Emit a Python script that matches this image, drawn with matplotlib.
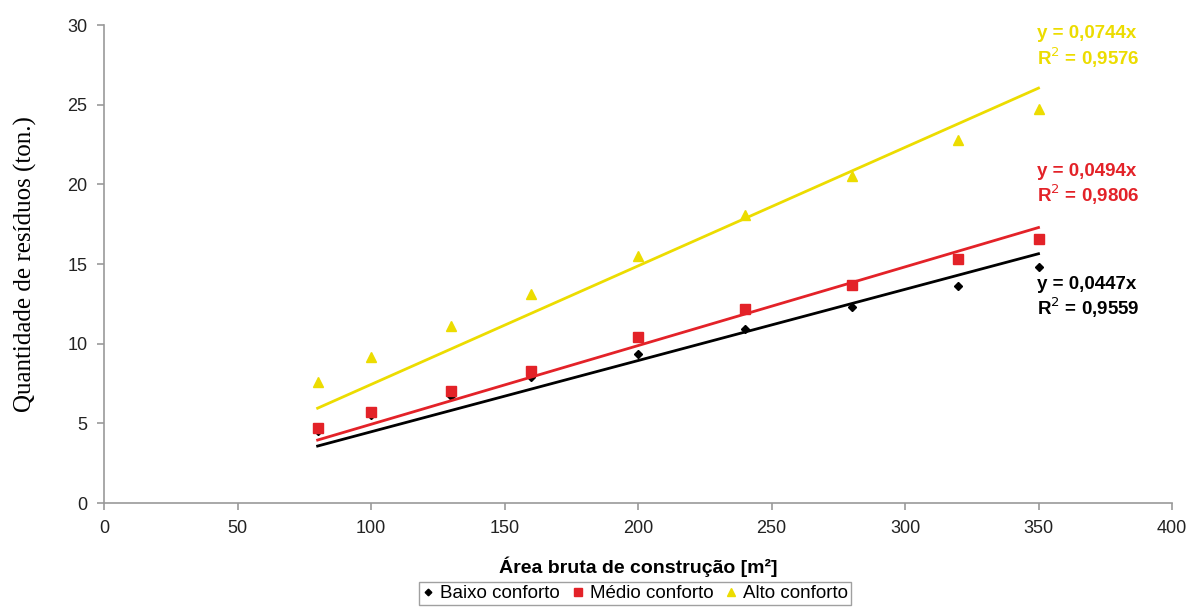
import numpy as np
import matplotlib.pyplot as plt

# area (m2) and residues (ton.)
area = np.array([80, 100, 130, 160, 200, 240, 280, 320, 350])
baixo = np.array([4.5, 5.5, 6.7, 7.9, 9.35, 10.9, 12.3, 13.6, 14.8])
medio = np.array([4.7, 5.7, 7.0, 8.3, 10.4, 12.2, 13.7, 15.3, 16.6])
alto = np.array([7.6, 9.15, 11.1, 13.1, 15.5, 18.1, 20.5, 22.8, 24.7])

slopes = [0.0447, 0.0494, 0.0744]
r2 = ["0,9559", "0,9806", "0,9576"]
labels = ["Baixo conforto", "Médio conforto", "Alto conforto"]
colors = ["#000000", "#e32228", "#ecdc00"]
markers = ["D", "s", "^"]
msizes = [4.5, 7, 7]
# where the equation text goes (data coords)
eq_pos = [(349.5, 12.85), (349.5, 19.95), (349.5, 28.6)]

plt.rcParams['font.family'] = ['Liberation Sans', 'DejaVu Sans']

fig = plt.figure(figsize=(11.89, 6.07), dpi=100)
ax = fig.add_axes([0.0875, 0.1713, 0.8982, 0.7875])

handles = []
for ys, b, r, lab, c, m, ms, pos in zip([baixo, medio, alto], slopes, r2, labels,
                                        colors, markers, msizes, eq_pos):
    h, = ax.plot(area, ys, linestyle='none', marker=m, color=c, markersize=ms, label=lab)
    handles.append(h)
    xx = np.array([area.min(), area.max()])
    ax.plot(xx, b * xx, color=c, lw=2)
    ax.text(pos[0], pos[1], "y = " + ("%.4f" % b).replace('.', ',') + "x\nR$^2$ = " + r,
            color=c, fontsize=13.5, fontweight='bold', ha='left', va='center',
            linespacing=1.15)

ax.set_xlim(0, 400)
ax.set_ylim(0, 30)
ax.set_xticks(np.arange(0, 401, 50))
ax.set_yticks(np.arange(0, 31, 5))
ax.spines['top'].set_visible(False)
ax.spines['right'].set_visible(False)
for s in ['left', 'bottom']:
    ax.spines[s].set_color('#999999')
    ax.spines[s].set_linewidth(1.2)
ax.tick_params(colors='#999999', labelcolor='#222222', labelsize=13, length=5, width=1.2, pad=7)

ax.set_xlabel("Área bruta de construção [m²]", fontsize=14, fontweight='bold', labelpad=14)
ax.set_ylabel("Quantidade de resíduos (ton.)", fontsize=18, family='Liberation Serif', labelpad=22)

leg = fig.legend(handles=handles, loc='upper center', bbox_to_anchor=(0.534, 0.056), ncol=3,
                 frameon=True, fancybox=False, fontsize=13.5, handlelength=0.7,
                 handletextpad=0.3, columnspacing=0.6, borderpad=0.15, markerscale=0.75)
leg.get_frame().set_edgecolor('#888888')
leg.get_frame().set_linewidth(1.0)

plt.savefig('out.png', dpi=100)
